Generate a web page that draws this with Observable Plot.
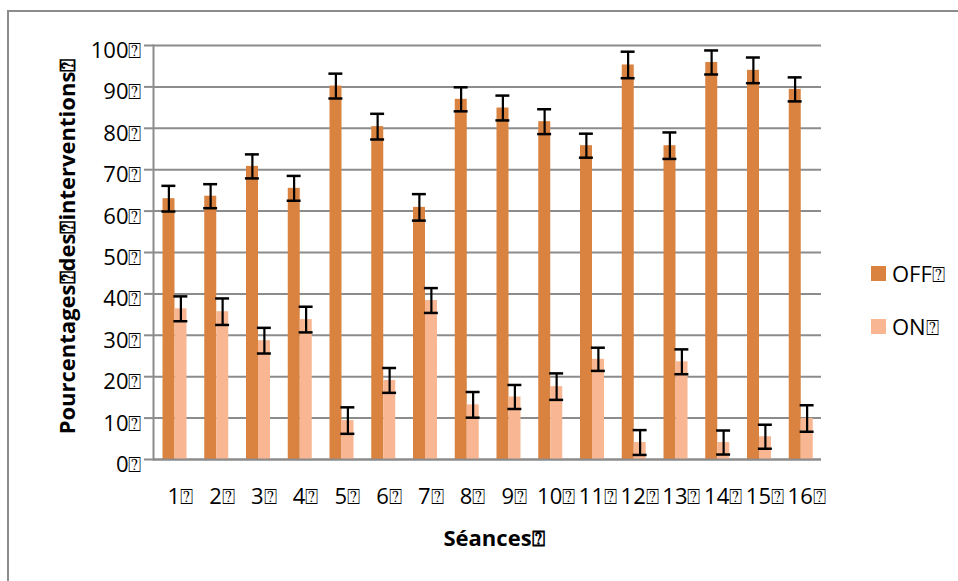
<!DOCTYPE html>
<html><head><meta charset="utf-8">
<script src="https://cdn.jsdelivr.net/npm/d3@7"></script>
<script src="https://cdn.jsdelivr.net/npm/@observablehq/plot@0.6"></script>
<style>
body{margin:0;background:#fff;font-family:"Open Sans",sans-serif;}
#wrap{position:relative;width:958px;height:581px;overflow:hidden;background:#fff;}
#frame{position:absolute;left:7px;top:10px;width:1200px;height:1000px;border-left:2px solid #8c8c8c;border-top:2px solid #8c8c8c;}
#chart{position:absolute;left:0;top:0;}
.lg{position:absolute;left:871px;display:flex;align-items:center;font-size:22px;line-height:22px;color:#000;}
.sw{width:15px;height:15px;margin-right:6px;}
</style></head>
<body>
<div id="wrap"><div id="frame"></div><div id="chart"></div></div>
<script>
const sessions = [1,2,3,4,5,6,7,8,9,10,11,12,13,14,15,16];
const seriesNames = ["OFF","ON"];
const seriesColors = ["#DA8340","#F8B792"];
const offValues = [63.0,63.6,70.8,65.5,90.2,80.4,60.9,87.0,84.9,81.6,75.8,95.3,75.8,95.9,94.0,89.4];
const onValues  = [36.4,35.7,28.7,33.8,9.4,19.1,38.4,13.2,15.1,17.6,24.2,4.1,23.6,4.1,5.5,9.9];
const offErr = [3.1,2.9,2.9,3.0,3.0,3.1,3.2,2.9,3.0,3.0,2.9,3.2,3.2,2.9,3.1,2.9];
const onErr  = [3.0,3.2,3.1,3.1,3.2,3.0,3.0,3.1,2.9,3.2,2.8,3.0,3.0,2.9,2.9,3.2];
const yTicks = [0,10,20,30,40,50,60,70,80,90,100];
const box = "\u2370";
const xTitle = "Séances" + box;
const yTitle = "Pourcentages" + box + "des" + box + "interventions" + box;

const rows = sessions.map((s,i)=>({session:s, off:offValues[i], on:onValues[i], offErr:offErr[i], onErr:onErr[i]}));
const grey = "#8c8c8c";

const chart = Plot.plot({
  width:958, height:581,
  marginLeft:153, marginRight:137, marginTop:45, marginBottom:122,
  style:{fontFamily:'"Open Sans", sans-serif', fontSize:"22px", color:"#000", background:"transparent", overflow:"visible"},
  x:{type:"band", domain:sessions, padding:0, round:false},
  y:{domain:[0,100]},
  marks:[
    Plot.gridY(yTicks, {stroke:grey, strokeOpacity:1, strokeWidth:2}),
    Plot.barY(rows, {x:"session", y:"off", fill:seriesColors[0], insetLeft:9.5, insetRight:20.25}),
    Plot.barY(rows, {x:"session", y:"on", fill:seriesColors[1], insetLeft:21.5, insetRight:8.25}),
    Plot.ruleY([0], {stroke:grey, strokeWidth:2}),
    Plot.frame({anchor:"left", stroke:grey, strokeOpacity:1, strokeWidth:2}),
    Plot.ruleX(rows, {x:"session", y1:d=>d.off-d.offErr, y2:d=>d.off+d.offErr, dx:-5.5, stroke:"#000", strokeWidth:2.2}),
    Plot.tickY(rows, {x:"session", y:d=>d.off+d.offErr, dx:-5.5, insetLeft:13.9, insetRight:13.9, stroke:"#000", strokeWidth:2.5}),
    Plot.tickY(rows, {x:"session", y:d=>d.off-d.offErr, dx:-5.5, insetLeft:13.9, insetRight:13.9, stroke:"#000", strokeWidth:2.5}),
    Plot.ruleX(rows, {x:"session", y1:d=>d.on-d.onErr, y2:d=>d.on+d.onErr, dx:6.5, stroke:"#000", strokeWidth:2.2}),
    Plot.tickY(rows, {x:"session", y:d=>d.on+d.onErr, dx:6.5, insetLeft:13.9, insetRight:13.9, stroke:"#000", strokeWidth:2.5}),
    Plot.tickY(rows, {x:"session", y:d=>d.on-d.onErr, dx:6.5, insetLeft:13.9, insetRight:13.9, stroke:"#000", strokeWidth:2.5}),
    Plot.axisY({ticks:yTicks, tickSize:9, tickFormat:()=>"", stroke:grey, strokeOpacity:1, strokeWidth:2, label:null}),
    Plot.axisY({ticks:yTicks, tickSize:0, tickPadding:12, dy:5.5, tickFormat:d=>d+box, label:null}),
    Plot.axisX({tickSize:0, tickPadding:29, dx:6, tickFormat:d=>d+box, label:null}),
    Plot.text([xTitle], {text:d=>d, frameAnchor:"bottom", textAnchor:"middle", lineAnchor:"bottom", dy:86, dx:6.5, fontWeight:"bold", fontSize:22}),
    Plot.text([yTitle], {text:d=>d, frameAnchor:"left", textAnchor:"middle", lineAnchor:"bottom", rotate:-90, dx:-79, dy:-6, fontWeight:"bold", fontSize:22})
  ]
});
document.getElementById("chart").appendChild(chart);

const wrap = document.getElementById("wrap");
const legendTops = [266, 319];
seriesNames.forEach((name,i)=>{
  const item = document.createElement("div");
  item.className = "lg";
  item.style.top = (legendTops[i]-4) + "px";
  const sw = document.createElement("div");
  sw.className = "sw";
  sw.style.background = seriesColors[i];
  const t = document.createElement("span");
  t.textContent = name + box;
  item.appendChild(sw); item.appendChild(t);
  wrap.appendChild(item);
});
</script>
</body></html>
